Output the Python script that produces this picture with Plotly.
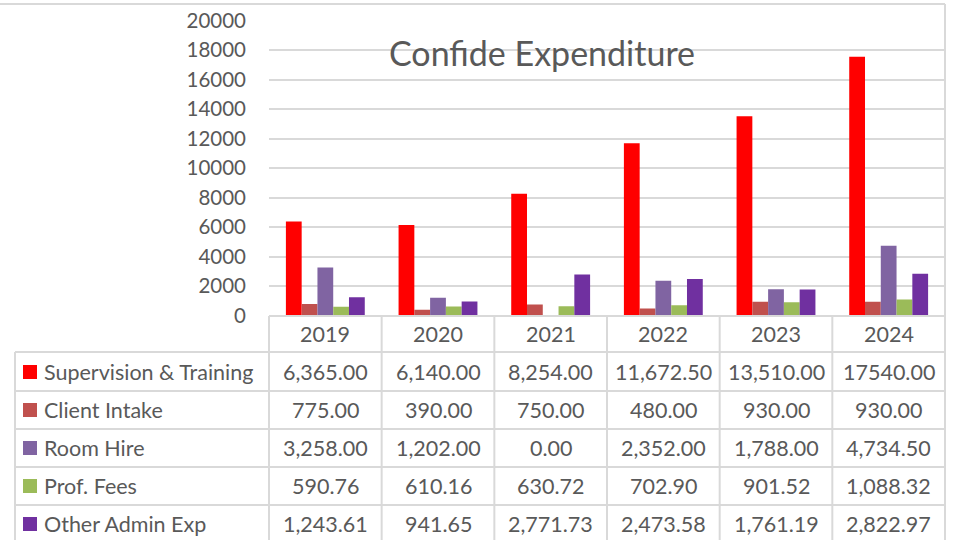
import plotly.graph_objects as go

years = ["2019", "2020", "2021", "2022", "2023", "2024"]
series_names = ["Supervision & Training", "Client Intake", "Room Hire", "Prof. Fees", "Other Admin Exp"]
supervision = [6365.00, 6140.00, 8254.00, 11672.50, 13510.00, 17540.00]
client_intake = [775.00, 390.00, 750.00, 480.00, 930.00, 930.00]
room_hire = [3258.00, 1202.00, 0.00, 2352.00, 1788.00, 4734.50]
prof_fees = [590.76, 610.16, 630.72, 702.90, 901.52, 1088.32]
other_admin = [1243.61, 941.65, 2771.73, 2473.58, 1761.19, 2822.97]
colors = ["#FF0000", "#C0504D", "#8064A2", "#9BBB59", "#7030A0"]
y_ticks = [0, 2000, 4000, 6000, 8000, 10000, 12000, 14000, 16000, 18000, 20000]
title_text = "Confide Expenditure"

series = [supervision, client_intake, room_hire, prof_fees, other_admin]

W, H = 953, 540
FONT = "Lato"
TXT = "#595959"
LINE = "#d9d9d9"
TS = 21.5

def px(x):
    return x / W

def py(y):
    return 1 - y / H

x0, x1 = 269, 945
y_top, y_zero = 20.5, 315.5

fig = go.Figure()
for name, vals, col in zip(series_names, series, colors):
    fig.add_trace(go.Bar(x=list(range(len(years))), y=vals, name=name,
                         marker=dict(color=col, line=dict(width=0)),
                         hoverinfo="skip"))

shapes = []
shapes.append(dict(type="line", xref="paper", yref="paper", x0=0, x1=px(945), y0=py(4), y1=py(4),
                   line=dict(color=LINE, width=2)))
shapes.append(dict(type="line", xref="paper", yref="paper", x0=px(x0), x1=px(x1), y0=py(316), y1=py(316),
                   line=dict(color=LINE, width=2)))
for yy in [352, 391, 429, 467, 505]:
    shapes.append(dict(type="line", xref="paper", yref="paper", x0=px(15), x1=px(x1), y0=py(yy), y1=py(yy),
                       line=dict(color=LINE, width=2)))
shapes.append(dict(type="line", xref="paper", yref="paper", x0=px(15), x1=px(15), y0=py(352), y1=py(540),
                   line=dict(color=LINE, width=2)))
ncol = len(years)
for i in range(ncol + 1):
    xx = x0 + (x1 - x0) * i / ncol
    ytop = 4 if i == ncol else 316
    shapes.append(dict(type="line", xref="paper", yref="paper", x0=px(xx), x1=px(xx), y0=py(ytop), y1=py(540),
                       line=dict(color=LINE, width=2)))

annotations = []
annotations.append(dict(text=title_text, xref="paper", yref="paper", x=px(542), y=py(53),
                        xanchor="center", yanchor="middle", showarrow=False,
                        font=dict(family=FONT, size=34, color=TXT)))
for i, yr in enumerate(years):
    annotations.append(dict(text=yr, xref="x", yref="paper", x=i, y=py(334),
                            xanchor="center", yanchor="middle", showarrow=False,
                            font=dict(family=FONT, size=TS, color=TXT)))
row_centers = [372, 410, 448, 486, 524]
for r, (name, vals, col) in enumerate(zip(series_names, series, colors)):
    yc = row_centers[r]
    shapes.append(dict(type="rect", xref="paper", yref="paper", x0=px(23), x1=px(37),
                       y0=py(yc - 7), y1=py(yc + 7), fillcolor=col, line=dict(width=0)))
    annotations.append(dict(text=name, xref="paper", yref="paper", x=px(42), y=py(yc),
                            xanchor="left", yanchor="middle", showarrow=False,
                            font=dict(family=FONT, size=TS, color=TXT)))
    for i, v in enumerate(vals):
        s = f"{v:,.2f}"
        if r == 0 and i == len(vals) - 1:
            s = f"{v:.2f}"
        annotations.append(dict(text=s, xref="x", yref="paper", x=i, y=py(yc),
                                xanchor="center", yanchor="middle", showarrow=False,
                                font=dict(family=FONT, size=TS, color=TXT)))

fig.update_layout(
    width=W, height=H,
    margin=dict(l=0, r=0, t=0, b=0, pad=0, autoexpand=False),
    paper_bgcolor="white", plot_bgcolor="white",
    barmode="group", bargap=0.3, bargroupgap=0,
    showlegend=False,
    xaxis=dict(domain=[px(x0), px(x1)], range=[-0.5, len(years) - 0.5], automargin=False,
               showticklabels=False, showgrid=False, zeroline=False, showline=False, fixedrange=True),
    yaxis=dict(domain=[py(y_zero), py(y_top)], range=[0, 20000], automargin=False,
               tickvals=y_ticks, ticktext=[str(t) for t in y_ticks],
               showgrid=True, gridcolor=LINE, gridwidth=1.5, zeroline=False, showline=False,
               tickfont=dict(family=FONT, size=20.5, color=TXT), ticklabelstandoff=22, fixedrange=True),
    shapes=shapes, annotations=annotations,
)

fig.write_html("out.html", config={"displayModeBar": False},
               post_script="document.body.style.margin='0';document.body.style.padding='0';document.body.style.overflow='hidden';")
